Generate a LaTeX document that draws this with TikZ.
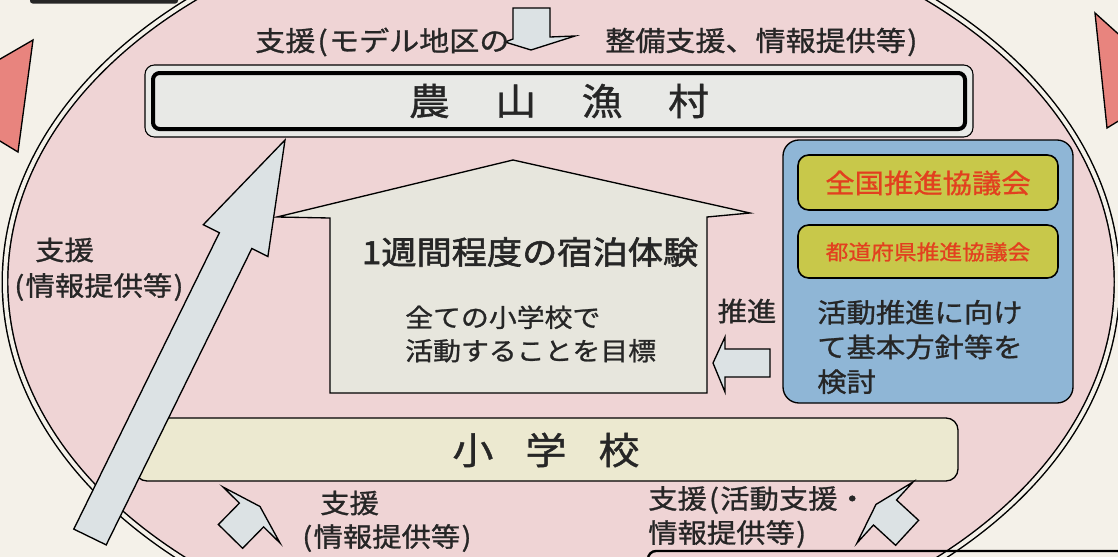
\documentclass[tikz,border=0pt]{standalone}
\usepackage{fontspec}
\newfontfamily\jp[FakeStretch=1.1,FakeBold=1.0]{Noto Sans CJK JP}
\newfontfamily\jpbold[FakeStretch=1.1,FakeBold=1.8]{Noto Sans CJK JP}
\newcommand\jpLP{\hbox to 0.5em{\hss(\kern0.05em}}
\newcommand\jpRP{\hbox to 0.5em{\kern0.05em)\hss}}
\definecolor{bgcream}{HTML}{F4F1E9}
\definecolor{ellpink}{HTML}{EFD4D5}
\definecolor{salmon}{HTML}{E8847E}
\definecolor{arrowfill}{HTML}{DCE2E4}
\definecolor{housefill}{HTML}{E7E6DD}
\definecolor{boxgray}{HTML}{E8E9E6}
\definecolor{barfill}{HTML}{ECE9D0}
\definecolor{bluebox}{HTML}{8FB6D6}
\definecolor{ygreen}{HTML}{C8C84A}
\definecolor{redtxt}{HTML}{E2401F}
\definecolor{txt}{HTML}{262626}
\tikzset{
  blockarrow/.style={draw=black, line width=1pt, fill=arrowfill, line join=miter},
  lbl/.style={inner sep=0pt, font=\jp\fontsize{20}{20}\selectfont, text=txt},
  body/.style={inner sep=0pt, font=\jp\fontsize{20}{26}\selectfont, text=txt},
}
\begin{document}
\begin{tikzpicture}[x=0.75pt,y=-0.75pt]
\useasboundingbox (0,0) rectangle (1118,557);
\fill[bgcream] (0,0) rectangle (1118,557);

% outside pink arrows
\draw[fill=salmon, line width=1pt] (33,40) -- (18,152) -- (-5,138) -- (-5,62) -- cycle;
\draw[fill=salmon, line width=1pt] (1095,13) -- (1107,128) -- (1125,117) -- (1125,40) -- cycle;

% big ellipse
\draw[fill=ellpink, line width=1.1pt, double=bgcream, double distance=3pt]
  (561,282) ellipse [x radius=556, y radius=378];

% fragments of neighbouring elements
\fill[black!85, rounded corners=2pt] (30,-20) rectangle (178,3.5);
\draw[line width=1.8pt, rounded corners=6pt] (648,575) -- (648,551) -- (1130,551);

% top down arrow and text
\draw[blockarrow] (513,8) -- (550,8) -- (550,37) -- (575,36) -- (531,50) -- (505,42) -- (513,39) -- cycle;
\node[lbl, anchor=west, font=\jp\fontsize{20.5}{20.5}\selectfont] (toptxtA) at (255,42) {支援\jpLP モデル地区の};
\node[lbl, anchor=west, font=\jp\fontsize{20.5}{20.5}\selectfont] (toptxtB) at (605,42) {整備支援、情報提供等\jpRP};

% 農山漁村 box
\draw[fill=boxgray, line width=0.8pt, rounded corners=7pt] (145,65) rectangle (973,137);
\draw[line width=3pt, rounded corners=5pt] (153,73) rectangle (965,129);
\node[inner sep=0pt, text=txt, font=\jp\fontsize{28}{28}\selectfont] (noson) at (559,101)
  {農\hspace{34pt}山\hspace{34pt}漁\hspace{34pt}村};

% house
\draw[fill=housefill, line width=1pt] (277,217) -- (513,160) -- (750,213) -- (707,217) -- (707,393) -- (330,393) -- (330,218) -- cycle;
\node[inner sep=0pt, text=txt, font=\jpbold\fontsize{24}{24}\selectfont] (shukuhaku) at (530,252) {1週間程度の宿泊体験};
\node[body, anchor=west, align=left, font=\jp\fontsize{19}{25}\selectfont] (mokuhyo) at (405,334)
  {全ての小学校で\\活動することを目標};

% 小学校 bar
\draw[fill=barfill, line width=1pt, rounded corners=9pt] (135,418) rectangle (958,481);
\node[inner sep=0pt, text=txt, font=\jp\fontsize{28}{28}\selectfont] (shogakko) at (546,450)
  {小\hspace{24pt}学\hspace{24pt}校};

% big diagonal arrow
\draw[blockarrow] (285,140) -- (267.9,256.5) -- (251.8,248.5) -- (106.2,544.9) -- (73.8,529.1) -- (219.4,232.7) -- (203.3,224.7) -- cycle;

% blue box
\draw[fill=bluebox, line width=1pt, rounded corners=12pt] (783,140) rectangle (1073,403);
\draw[fill=ygreen, line width=1.2pt, rounded corners=8pt] (798,155) rectangle (1058,210);
\draw[fill=ygreen, line width=1.2pt, rounded corners=8pt] (798,225) rectangle (1058,278);
\node[inner sep=0pt, text=redtxt, font=\jp\fontsize{20}{20}\selectfont] (zenkoku) at (928,183) {全国推進協議会};
\node[inner sep=0pt, text=redtxt, font=\jp\fontsize{15.5}{15.5}\selectfont] (todofuken) at (928,252) {都道府県推進協議会};
\node[body, anchor=west, align=left] (kento) at (817,347) {活動推進に向け\\て基本方針等を\\検討};

% 推進 arrow
\node[body] (suishin) at (747,311) {推進};
\draw[blockarrow] (713,363) -- (725,337) -- (725,349) -- (770,349) -- (770,377) -- (725,377) -- (725,392) -- cycle;

% labels
\node[lbl, anchor=west] (lbl1a) at (35,250) {支援};
\node[lbl, anchor=west] (lbl1b) at (12,287) {\jpLP 情報提供等\jpRP};
\node[lbl, anchor=west] (lbl2a) at (320,503) {支援};
\node[lbl, anchor=west] (lbl2b) at (300,538) {\jpLP 情報提供等\jpRP};
\node[lbl, anchor=west] (lbl3a) at (648,500) {支援\jpLP 活動支援・};
\node[lbl, anchor=west] (lbl3b) at (648,534) {情報提供等\jpRP};

% small arrows toward 小学校
\draw[blockarrow] (260,506.5) -- (223,487) -- (239.4,503.1) -- (218.4,524.5) -- (242.6,548.3) -- (263.6,526.9) -- (280,543) -- cycle;
\draw[blockarrow] (876,504.4) -- (913,482) -- (896.5,500) -- (918.6,520.3) -- (895.6,545.3) -- (873.5,525) -- (857,543) -- cycle;
\end{tikzpicture}
\end{document}
